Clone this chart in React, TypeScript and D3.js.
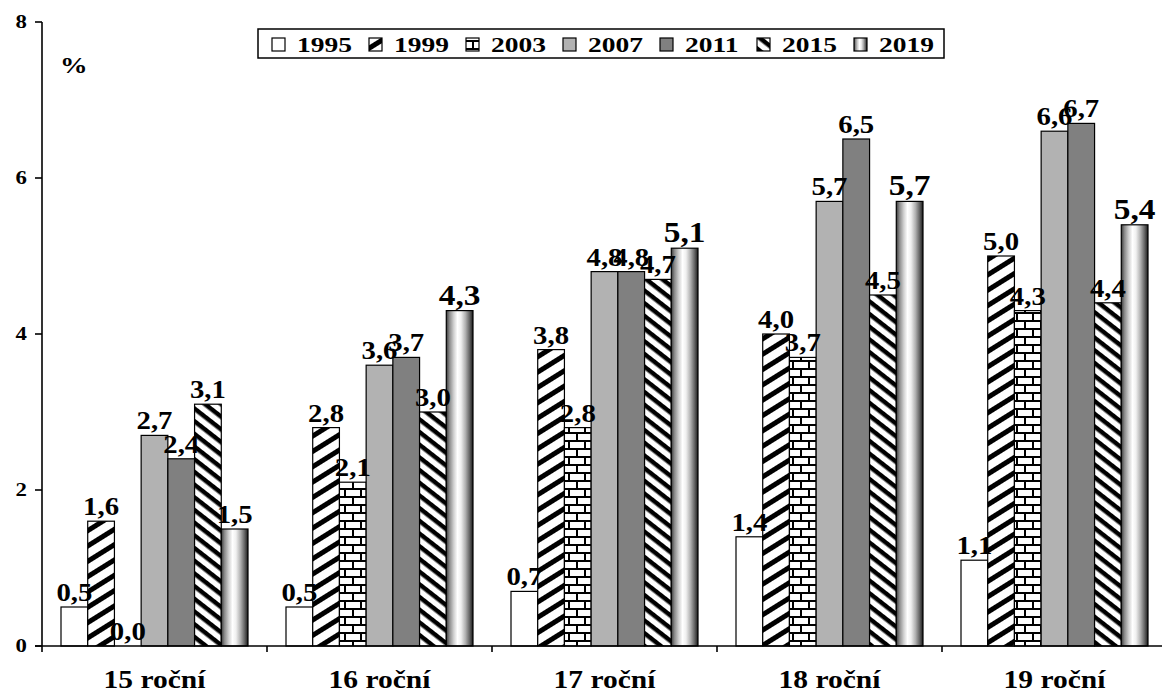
import React from "react";
import * as d3 from "d3";

const categories = ["15 roční", "16 roční", "17 roční", "18 roční", "19 roční"];
const seriesNames = ["1995", "1999", "2003", "2007", "2011", "2015", "2019"];
const v1995 = [0.5, 0.5, 0.7, 1.4, 1.1];
const v1999 = [1.6, 2.8, 3.8, 4.0, 5.0];
const v2003 = [0.0, 2.1, 2.8, 3.7, 4.3];
const v2007 = [2.7, 3.6, 4.8, 5.7, 6.6];
const v2011 = [2.4, 3.7, 4.8, 6.5, 6.7];
const v2015 = [3.1, 3.0, 4.7, 4.5, 4.4];
const v2019 = [1.5, 4.3, 5.1, 5.7, 5.4];
const yTicks = [0, 2, 4, 6, 8];

const seriesValues = [v1995, v1999, v2003, v2007, v2011, v2015, v2019];
const fills = [
  "#ffffff",
  "url(#p1999)",
  "url(#p2003)",
  "#b2b2b2",
  "#808080",
  "url(#p2015)",
  "url(#g2019)",
];

const FONT = "Liberation Serif, Times New Roman, Times, serif";

const W = 1162;
const H = 693;
const x0 = 42;
const x1 = 1167;
const yBase = 646;
const yTop = 22;

export default function App() {
  const xg = d3.scaleBand<string>().domain(categories).range([x0, x1]).padding(0);
  const bw = xg.bandwidth();
  const xs = d3
    .scaleBand<string>()
    .domain(seriesNames)
    .range([19, bw - 19])
    .padding(0);
  const y = d3.scaleLinear().domain([0, 8]).range([yBase, yTop]);

  const fmt = (v: number) => v.toFixed(1).replace(".", ",");

  const legendStart = 272;
  const legendStep = 97;

  return (
    <svg
      width={W}
      height={H}
      style={{ position: "absolute", left: 0, top: 0, background: "#fff" }}
    >
      <defs>
        <pattern
          id="p1999"
          patternUnits="userSpaceOnUse"
          width={20}
          height={13}
          patternTransform="rotate(-32)"
        >
          <rect width={20} height={13} fill="#fff" />
          <rect y={0} width={20} height={5} fill="#000" />
        </pattern>
        <pattern
          id="p2015"
          patternUnits="userSpaceOnUse"
          width={20}
          height={10}
          patternTransform="rotate(38)"
        >
          <rect width={20} height={10} fill="#fff" />
          <rect y={0} width={20} height={4.5} fill="#000" />
        </pattern>
        <pattern id="p2003" patternUnits="userSpaceOnUse" width={16} height={16}>
          <rect width={16} height={16} fill="#fff" />
          <rect x={0} y={0} width={16} height={2} fill="#000" />
          <rect x={0} y={8} width={16} height={2} fill="#000" />
          <rect x={0} y={0} width={2} height={8} fill="#000" />
          <rect x={8} y={8} width={2} height={8} fill="#000" />
        </pattern>
        <linearGradient id="g2019" x1="0" x2="1" y1="0" y2="0">
          <stop offset="0" stopColor="#3a3a3a" />
          <stop offset="0.12" stopColor="#8a8a8a" />
          <stop offset="0.28" stopColor="#d0d0d0" />
          <stop offset="0.42" stopColor="#ffffff" />
          <stop offset="0.55" stopColor="#f0f0f0" />
          <stop offset="0.72" stopColor="#b0b0b0" />
          <stop offset="0.88" stopColor="#606060" />
          <stop offset="1" stopColor="#1a1a1a" />
        </linearGradient>
      </defs>

      {/* bars */}
      {categories.map((c, ci) =>
        seriesNames.map((s, si) => {
          const v = seriesValues[si][ci];
          const bx = (xg(c) as number) + (xs(s) as number);
          const by = y(v);
          return (
            <rect
              key={c + s}
              x={bx}
              y={by}
              width={xs.bandwidth()}
              height={yBase - by}
              fill={fills[si]}
              stroke="#000"
              strokeWidth={1.2}
            />
          );
        })
      )}

      {/* axes */}
      <line x1={x0} x2={x0} y1={y(8)} y2={yBase} stroke="#000" strokeWidth={1.6} />
      <line x1={x0 - 7} x2={x1} y1={yBase} y2={yBase} stroke="#000" strokeWidth={1.6} />
      {yTicks.map((t) => (
        <g key={"yt" + t}>
          <line x1={x0 - 7} x2={x0} y1={y(t)} y2={y(t)} stroke="#000" strokeWidth={1.6} />
          <text
            transform={`translate(${x0 - 15},${y(t) + 6}) scale(1.2,1)`}
            textAnchor="end"
            fontFamily={FONT}
            fontWeight="bold"
            fontSize={19}
          >
            {t}
          </text>
        </g>
      ))}
      {categories.map((c) => (
        <line
          key={"xt" + c}
          x1={xg(c) as number}
          x2={xg(c) as number}
          y1={yBase}
          y2={yBase + 6}
          stroke="#000"
          strokeWidth={1.6}
        />
      ))}
      {categories.map((c) => (
        <text
          key={"xl" + c}
          transform={`translate(${(xg(c) as number) + bw / 2},${688}) scale(1.18,1)`}
          textAnchor="middle"
          fontFamily={FONT}
          fontWeight="bold"
          fontSize={25}
        >
          {c}
        </text>
      ))}
      <text
        transform={`translate(60,73) scale(1.15,1)`}
        fontFamily={FONT}
        fontWeight="bold"
        fontSize={24}
      >
        %
      </text>

      {/* data labels */}
      {categories.map((c, ci) =>
        seriesNames.map((s, si) => {
          const v = seriesValues[si][ci];
          const cx = (xg(c) as number) + (xs(s) as number) + xs.bandwidth() / 2;
          const big = si === 6 && ci > 0;
          return (
            <text
              key={"dl" + c + s}
              transform={`translate(${cx},${y(v) - 6}) scale(1.15,1)`}
              textAnchor="middle"
              fontFamily={FONT}
              fontWeight="bold"
              fontSize={big ? 29 : 25}
            >
              {fmt(v)}
            </text>
          );
        })
      )}

      {/* legend */}
      <rect x={258} y={29} width={686} height={29} fill="#fff" stroke="#000" strokeWidth={1.5} />
      {seriesNames.map((s, si) => {
        const lx = legendStart + si * legendStep;
        return (
          <g key={"lg" + s}>
            <rect x={lx} y={38} width={13} height={13} fill={fills[si]} stroke="#000" strokeWidth={1.2} />
            <text
              transform={`translate(${lx + 25},${52}) scale(1.25,1)`}
              fontFamily={FONT}
              fontWeight="bold"
              fontSize={22}
            >
              {s}
            </text>
          </g>
        );
      })}
    </svg>
  );
}
